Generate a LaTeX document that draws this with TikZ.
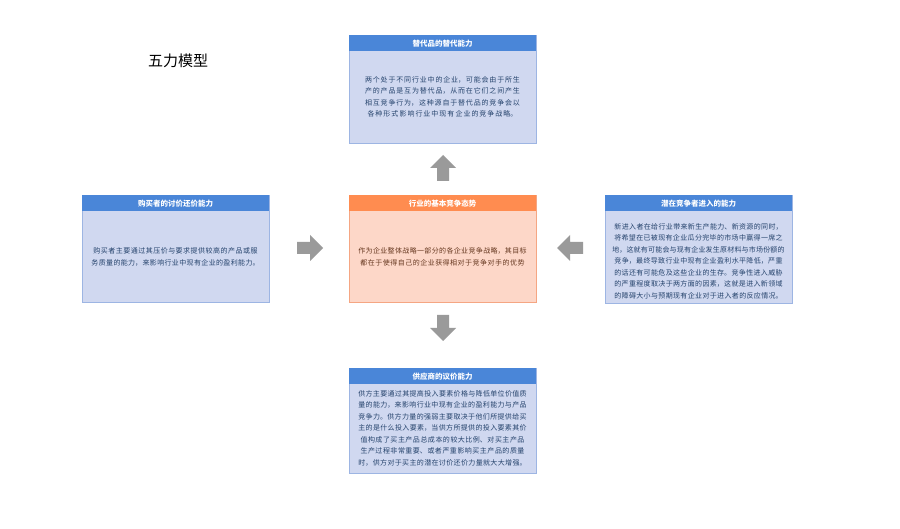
\documentclass[tikz,border=0pt]{standalone}
\usepackage{fontspec}
\setmainfont{Noto Sans CJK SC}
\XeTeXlinebreaklocale "zh"
\XeTeXlinebreakskip=0pt plus 1pt
\usetikzlibrary{positioning}
\definecolor{hb}{HTML}{4A86D8}
\definecolor{bb}{HTML}{D0D8F0}
\definecolor{bd}{HTML}{9DB5E3}
\definecolor{ho}{HTML}{FF8C50}
\definecolor{bo}{HTML}{FDD7C8}
\definecolor{od}{HTML}{F5A683}
\definecolor{ag}{HTML}{9A9A9A}
\tikzset{
 bodyb/.style={draw=bd,fill=bb,line width=0.8pt,minimum width=187pt,minimum height=#1,anchor=north west,inner sep=0},
 bodyo/.style={draw=od,fill=bo,line width=0.8pt,minimum width=187pt,minimum height=#1,anchor=north west,inner sep=0},
 headb/.style={fill=hb,minimum width=187pt,minimum height=16pt,anchor=north west,inner sep=0,text=white,font=\fontsize{7.5}{9}\selectfont\bfseries},
 heado/.style={fill=ho,minimum width=187pt,minimum height=16pt,anchor=north west,inner sep=0,text=white,font=\fontsize{7.5}{9}\selectfont\bfseries},
 txt/.style={text width=178pt,align=center,font=\fontsize{7}{11.5}\selectfont,text=#1,inner sep=0},
 pics/blockarrow/.style={code={\fill[ag,rotate=#1] (-13,-6) -- (0,-6) -- (0,-13) -- (13,0) -- (0,13) -- (0,6) -- (-13,6) -- cycle;}}
}
\begin{document}
\begin{tikzpicture}[x=1pt,y=-1pt]
\useasboundingbox (0,0) rectangle (900,529);
\fill[white] (0,0) rectangle (900,529);
\node[font=\fontsize{15}{18}\selectfont] (title) at (178,61) {五力模型};
% top
\node[bodyb=108pt] (tb) at (349,35) {};
\node[headb] (th) at (349,35) {替代品的替代能力};
\node[txt=hb!50!black] (tt) at (442.5,97) {两个处于不同行业中的企业，可能会由于所生产的产品是互为替代品，从而在它们之间产生相互竞争行为，这种源自于替代品的竞争会以各种形式影响行业中现有企业的竞争战略。};
% left
\node[bodyb=107pt] (lb) at (82,195) {};
\node[headb] (lh) at (82,195) {购买者的讨价还价能力};
\node[txt=hb!50!black] (lt) at (175.5,257) {购买者主要通过其压价与要求提供较高的产品或服务质量的能力，来影响行业中现有企业的盈利能力。};
% center
\node[bodyo=107pt] (cb) at (349,195) {};
\node[heado] (ch) at (349,195) {行业的基本竞争态势};
\node[txt=ho!40!black] (ct) at (442.5,257) {作为企业整体战略一部分的各企业竞争战略，其目标都在于使得自己的企业获得相对于竞争对手的优势};
% right
\node[bodyb=108pt] (rb) at (605,195) {};
\node[headb] (rh) at (605,195) {潜在竞争者进入的能力};
\node[txt=hb!50!black] (rt) at (698.5,261) {新进入者在给行业带来新生产能力、新资源的同时，将希望在已被现有企业瓜分完毕的市场中赢得一席之地，这就有可能会与现有企业发生原材料与市场份额的竞争，最终导致行业中现有企业盈利水平降低，严重的话还有可能危及这些企业的生存。竞争性进入威胁的严重程度取决于两方面的因素，这就是进入新领域的障碍大小与预期现有企业对于进入者的反应情况。};
% bottom
\node[bodyb=105pt] (bb) at (349,368) {};
\node[headb] (bh) at (349,368) {供应商的议价能力};
\node[txt=hb!50!black] (bt) at (442.5,428) {供方主要通过其提高投入要素价格与降低单位价值质量的能力，来影响行业中现有企业的盈利能力与产品竞争力。供方力量的强弱主要取决于他们所提供给买主的是什么投入要素，当供方所提供的投入要素其价值构成了买主产品总成本的较大比例、对买主产品生产过程非常重要、或者严重影响买主产品的质量时，供方对于买主的潜在讨价还价力量就大大增强。};
% arrows
\pic at (443,168) {blockarrow=90};
\pic at (310,248) {blockarrow=0};
\pic at (570,248) {blockarrow=180};
\pic at (443,328) {blockarrow=-90};
\end{tikzpicture}
\end{document}
